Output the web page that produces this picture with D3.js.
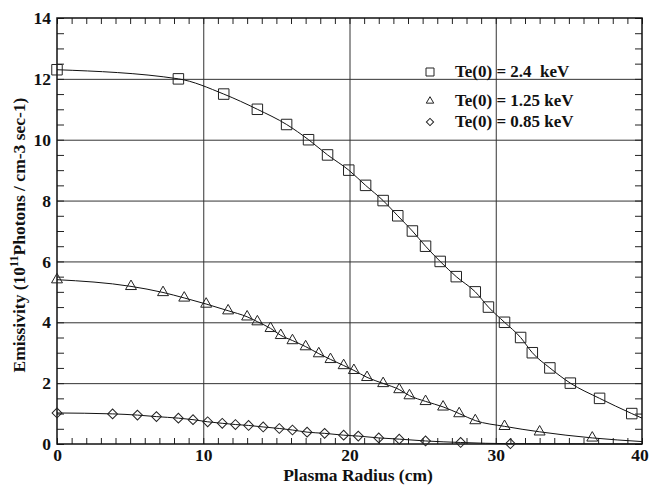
<html>
<head>
  <title>Emissivity</title>
  <script src='https://d3js.org/d3.v7.min.js'></script>
	<meta http-equiv="content-type" content="text/html;charset=UTF-8">
	<style>
		body { margin: 0; background: #fff; }
		text { font-family: "Liberation Serif", "Times New Roman", serif; font-weight: bold; fill: #111; }
	</style>
</head>
<body>
	<svg id="chart"></svg>
	<script>
		// Te(0) = 2.4 keV (squares)
		var sqX = [0, 8.3, 11.4, 13.7, 15.7, 17.2, 18.5, 19.95, 21.1, 22.3, 23.3, 24.3, 25.2, 26.2, 27.3, 28.6, 29.5, 30.6, 31.7, 32.5, 33.7, 35.1, 37.1, 39.3];
		var sqY = [12.3, 12, 11.5, 11, 10.5, 10, 9.5, 9, 8.5, 8, 7.5, 7, 6.5, 6, 5.5, 5, 4.5, 4, 3.5, 3, 2.5, 2, 1.5, 1.0];
		// Te(0) = 1.25 keV (triangles)
		var triX = [0, 5.06, 7.25, 8.7, 10.2, 11.7, 13.0, 13.7, 14.6, 15.3, 16.1, 17.0, 17.9, 18.7, 19.6, 20.3, 21.2, 22.3, 23.4, 24.1, 25.2, 26.4, 27.5, 28.6, 30.6, 33.0, 36.6];
		var triY = [5.4, 5.18, 4.98, 4.8, 4.6, 4.38, 4.18, 4.02, 3.8, 3.57, 3.4, 3.2, 2.97, 2.78, 2.58, 2.42, 2.19, 1.99, 1.79, 1.59, 1.4, 1.22, 1.0, 0.77, 0.58, 0.4, 0.2];
		// Te(0) = 0.85 keV (diamonds)
		var diaX = [0, 3.8, 5.5, 6.8, 8.3, 9.3, 10.3, 11.3, 12.2, 13.1, 14.1, 15.2, 16.1, 17.1, 18.3, 19.6, 20.6, 22.0, 23.4, 25.2, 27.6, 31.0];
		var diaY = [1.02, 0.99, 0.95, 0.9, 0.85, 0.8, 0.73, 0.68, 0.64, 0.61, 0.56, 0.51, 0.46, 0.39, 0.35, 0.29, 0.26, 0.2, 0.16, 0.1, 0.05, 0.01];
		// where the fitted curves meet the right axis (x = 40)
		var fitEnd = [0.85, 0.08, 0.0];
		var legendLabels = ["Te(0) = 2.4\u00a0 keV", "Te(0) = 1.25 keV", "Te(0) = 0.85 keV"];
		var xTicks = [0, 10, 20, 30, 40];
		var yTicks = [0, 2, 4, 6, 8, 10, 12, 14];

		var width = 649, height = 489;
		// plot box (window.top is read-only, so own names)
		var pL = 57, pR = 642, pT = 18, pB = 444;
		var serif = '"Liberation Serif", "Times New Roman", serif';

		var svg = d3.select('#chart')
			.attr('width', width)
			.attr('height', height);
		svg.append('rect').attr('width', width).attr('height', height).attr('fill', '#fff');

		var x = d3.scaleLinear().domain([0, 40]).range([pL, pR]);
		var y = d3.scaleLinear().domain([0, 14]).range([pB, pT]);

		// grid lines
		svg.append('g')
			.attr('transform', 'translate(0,' + pB + ')')
			.call(d3.axisBottom(x).tickValues([10, 20, 30]).tickSize(-(pB - pT)).tickFormat(''))
			.call(g => g.select('.domain').remove())
			.selectAll('line').attr('stroke', '#333').attr('stroke-width', 1);
		svg.append('g')
			.attr('transform', 'translate(' + pL + ',0)')
			.call(d3.axisLeft(y).tickValues([2, 4, 6, 8, 10, 12]).tickSize(-(pR - pL)).tickFormat(''))
			.call(g => g.select('.domain').remove())
			.selectAll('line').attr('stroke', '#333').attr('stroke-width', 1);

		// minor ticks on all four sides, pointing inward
		var minorX = d3.range(0, 41, 1), minorY = d3.range(0, 14.01, 0.5);
		[
			[d3.axisBottom(x).tickValues(minorX).tickSize(-6), 'translate(0,' + pB + ')'],
			[d3.axisTop(x).tickValues(minorX).tickSize(-6), 'translate(0,' + pT + ')'],
			[d3.axisLeft(y).tickValues(minorY).tickSize(-7), 'translate(' + pL + ',0)'],
			[d3.axisRight(y).tickValues(minorY).tickSize(-7), 'translate(' + pR + ',0)']
		].forEach(function ([ax, tr]) {
			svg.append('g')
				.attr('transform', tr)
				.call(ax.tickFormat(''))
				.call(g => g.select('.domain').remove())
				.selectAll('line').attr('stroke', '#222').attr('stroke-width', 1);
		});

		// tick labels
		svg.append('g')
			.attr('transform', 'translate(0,' + pB + ')')
			.attr('font-family', serif)
			.call(d3.axisBottom(x).tickValues(xTicks).tickSize(0).tickPadding(5).tickFormat(d3.format('d')))
			.call(g => g.select('.domain').remove())
			.selectAll('text').attr('font-size', 17.5)
			.attr('dx', d => d === 40 ? -2.5 : 0);
		svg.append('g')
			.attr('transform', 'translate(' + pL + ',0)')
			.attr('font-family', serif)
			.call(d3.axisLeft(y).tickValues(yTicks).tickSize(0).tickPadding(6).tickFormat(d3.format('d')))
			.call(g => g.select('.domain').remove())
			.selectAll('text').attr('font-size', 17.5);

		// frame
		svg.append('rect')
			.attr('x', pL).attr('y', pT)
			.attr('width', pR - pL).attr('height', pB - pT)
			.attr('fill', 'none').attr('stroke', '#111').attr('stroke-width', 1.5);

		// curves and markers (diamond = square turned 45 degrees)
		var series = [
			{xs: sqX, ys: sqY, sym: d3.symbolSquare, size: 110, lsize: 64, rot: 0},
			{xs: triX, ys: triY, sym: d3.symbolTriangle, size: 52, lsize: 24, rot: 0},
			{xs: diaX, ys: diaY, sym: d3.symbolSquare, size: 48, lsize: 26, rot: 45}
		];
		var line = d3.line()
			.x(d => x(d[0])).y(d => y(d[1]))
			.curve(d3.curveMonotoneX);

		series.forEach(function (s, i) {
			var pts = s.xs.map((v, j) => [v, s.ys[j]]);
			svg.append('path')
				.attr('d', line(pts.concat([[40, fitEnd[i]]])))
				.attr('fill', 'none').attr('stroke', '#111').attr('stroke-width', 1);
			svg.append('g').selectAll('path')
				.data(pts)
				.enter()
				.append('path')
				.attr('transform', d => 'translate(' + x(d[0]) + ',' + y(d[1]) + ') rotate(' + s.rot + ')')
				.attr('d', d3.symbol().type(s.sym).size(s.size))
				.attr('fill', 'none').attr('stroke', '#222').attr('stroke-width', 1);
		});

		// legend
		var legend = svg.append('g');
		legendLabels.forEach(function (lab, i) {
			var ly = [72, 101, 122][i];
			legend.append('path')
				.attr('transform', 'translate(430,' + ly + ') rotate(' + series[i].rot + ')')
				.attr('d', d3.symbol().type(series[i].sym).size(series[i].lsize))
				.attr('fill', 'none').attr('stroke', '#222').attr('stroke-width', 1);
			legend.append('text')
				.attr('x', 455).attr('y', ly + 5)
				.attr('font-size', 17)
				.text(lab);
		});

		// axis titles
		svg.append('text')
			.attr('x', 358).attr('y', 481)
			.attr('text-anchor', 'middle')
			.attr('font-size', 17.5)
			.text('Plasma Radius (cm)');
		var yt = svg.append('text')
			.attr('transform', 'translate(25,235) rotate(-90)')
			.attr('text-anchor', 'middle')
			.attr('font-size', 17.5);
		yt.append('tspan').text('Emissivity (10');
		yt.append('tspan').attr('font-size', 12).attr('dy', -7).text('11');
		yt.append('tspan').attr('dy', 7).text('Photons / cm-3 sec-1)');
	</script>
</body>
</html>
